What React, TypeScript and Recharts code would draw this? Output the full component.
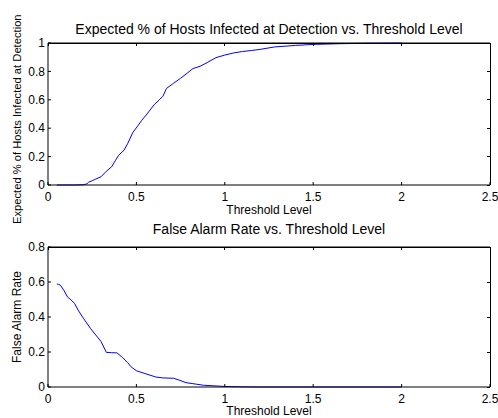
import { LineChart, Line, XAxis, YAxis, Label, ReferenceLine } from "recharts"

const xTicks = [0, 0.5, 1, 1.5, 2, 2.5]
const infectedTicks = [0, 0.2, 0.4, 0.6, 0.8, 1]
const alarmTicks = [0, 0.2, 0.4, 0.6, 0.8]

const infectedThreshold = [
  0.05, 0.1, 0.15, 0.2, 0.22, 0.23, 0.25, 0.27, 0.3, 0.33, 0.36, 0.38, 0.4, 0.43, 0.45, 0.48, 0.51, 0.53, 0.56,
  0.6, 0.63, 0.65, 0.67, 0.71, 0.75, 0.79, 0.82, 0.86, 0.9, 0.95, 1.0, 1.05, 1.1, 1.15, 1.2, 1.28, 1.4, 1.5, 1.65,
  1.8, 2.0,
]
const infected = [
  0, 0, 0, 0.002, 0.008, 0.02, 0.03, 0.042, 0.058, 0.097, 0.128, 0.17, 0.21, 0.245, 0.29, 0.37, 0.42, 0.455, 0.5,
  0.565, 0.6, 0.625, 0.68, 0.716, 0.752, 0.79, 0.82, 0.836, 0.862, 0.897, 0.915, 0.93, 0.94, 0.947, 0.955, 0.972,
  0.983, 0.99, 0.995, 0.998, 1.0,
]

const alarmThreshold = [
  0.05, 0.06, 0.07, 0.09, 0.11, 0.13, 0.15, 0.17, 0.2, 0.24, 0.28, 0.3, 0.33, 0.36, 0.39, 0.42, 0.45, 0.47, 0.5,
  0.56, 0.61, 0.65, 0.71, 0.74, 0.78, 0.82, 0.88, 0.95, 1.0, 1.1, 1.2, 1.5, 2.0,
]
const falseAlarm = [
  0.589, 0.586, 0.582, 0.552, 0.515, 0.498, 0.478, 0.44, 0.393, 0.335, 0.285, 0.26, 0.198, 0.196, 0.195, 0.17,
  0.14, 0.115, 0.093, 0.073, 0.057, 0.052, 0.05, 0.04, 0.025, 0.019, 0.01, 0.006, 0.003, 0.001, 0, 0, 0,
]

const infectedData = infectedThreshold.map((t, i) => ({ t, v: infected[i] }))
const alarmData = alarmThreshold.map((t, i) => ({ t, v: falseAlarm[i] }))

const font = "'Liberation Sans', Arial, Helvetica, sans-serif"
const xMax = 2.5
const plotLeft = 48
const plotWidth = 442
const tickLen = 3

function YTitle({ text, y, anchor, size }: any) {
  return (
    <text
      x={21}
      y={y}
      transform={`rotate(-90, 21, ${y})`}
      textAnchor={anchor}
      fontSize={size}
      fontFamily={font}
      fill="#000"
    >
      {text}
    </text>
  )
}

// MATLAB-style box: frame plus inward ticks on the top and right edges
function Box({ top, plotHeight, yTicks, yMax }: any) {
  const right = plotLeft + plotWidth
  const bottom = top + plotHeight
  return (
    <g stroke="#000" strokeWidth={1} fill="none" shapeRendering="crispEdges">
      <line x1={plotLeft} x2={right} y1={top} y2={top} />
      <line x1={right} x2={right} y1={top} y2={bottom} />
      {xTicks.map((t) => {
        const x = plotLeft + (t / xMax) * plotWidth
        return <line key={`x${t}`} x1={x} x2={x} y1={top} y2={top + tickLen} />
      })}
      {yTicks.map((v: number) => {
        const y = bottom - (v / yMax) * plotHeight
        return <line key={`y${v}`} x1={right - tickLen} x2={right} y1={y} y2={y} />
      })}
    </g>
  )
}

function Panel(props: any) {
  const { data, height, top, plotHeight, yTicks, yMax, title, titleBaseline, yLabel, yLabelY, yAnchor, yLabelSize, xLabelBaseline } = props
  return (
    <LineChart width={498} height={height} data={data} margin={{ top, right: 498 - plotLeft - plotWidth, bottom: 0, left: 0 }}>
      <XAxis
        dataKey="t"
        type="number"
        domain={[0, xMax]}
        ticks={xTicks}
        stroke="#000"
        tickSize={-tickLen}
        tickMargin={10}
        tick={{ fill: "#000", fontSize: 12, fontFamily: font }}
        height={height - top - plotHeight}
      >
        <Label
          content={() => (
            <text x={269} y={xLabelBaseline} textAnchor="middle" fontSize={12} fontFamily={font} fill="#000">
              Threshold Level
            </text>
          )}
        />
      </XAxis>
      <YAxis
        type="number"
        domain={[0, yMax]}
        ticks={yTicks}
        stroke="#000"
        tickSize={-tickLen}
        tickMargin={6}
        tick={{ fill: "#000", fontSize: 12, fontFamily: font }}
        width={plotLeft}
      >
        <Label content={() => <YTitle text={yLabel} y={yLabelY} anchor={yAnchor} size={yLabelSize} />} />
      </YAxis>
      <ReferenceLine
        y={yMax}
        stroke="#000"
        label={
          <Label
            content={() => (
              <text x={269} y={titleBaseline} textAnchor="middle" fontSize={14} fontFamily={font} fill="#000">
                {title}
              </text>
            )}
          />
        }
      />
      <Line dataKey="v" stroke="#0000ff" strokeWidth={1} dot={false} type="linear" isAnimationActive={false} />
    </LineChart>
  )
}

export default function App() {
  return (
    <div style={{ position: "absolute", left: 0, top: 0, width: 498, height: 418, background: "#fff", overflow: "hidden" }}>
      <div style={{ position: "absolute", left: 0, top: 0 }}>
        <Panel
          data={infectedData}
          height={232}
          top={43}
          plotHeight={142}
          yTicks={infectedTicks}
          yMax={1}
          title="Expected % of Hosts Infected at Detection vs. Threshold Level"
          titleBaseline={34}
          yLabel="Expected % of Hosts Infected at Detection"
          yLabelY={224}
          yAnchor="start"
          yLabelSize={11.2}
          xLabelBaseline={214}
        />
      </div>
      <div style={{ position: "absolute", left: 0, top: 220 }}>
        <Panel
          data={alarmData}
          height={198}
          top={27}
          plotHeight={140}
          yTicks={alarmTicks}
          yMax={0.8}
          title="False Alarm Rate vs. Threshold Level"
          titleBaseline={14}
          yLabel="False Alarm Rate"
          yLabelY={97}
          yAnchor="middle"
          yLabelSize={12}
          xLabelBaseline={195}
        />
      </div>
      <svg width={498} height={418} style={{ position: "absolute", left: 0, top: 0, pointerEvents: "none" }}>
        <Box top={43} plotHeight={142} yTicks={infectedTicks} yMax={1} />
        <Box top={247} plotHeight={140} yTicks={alarmTicks} yMax={0.8} />
      </svg>
    </div>
  )
}
